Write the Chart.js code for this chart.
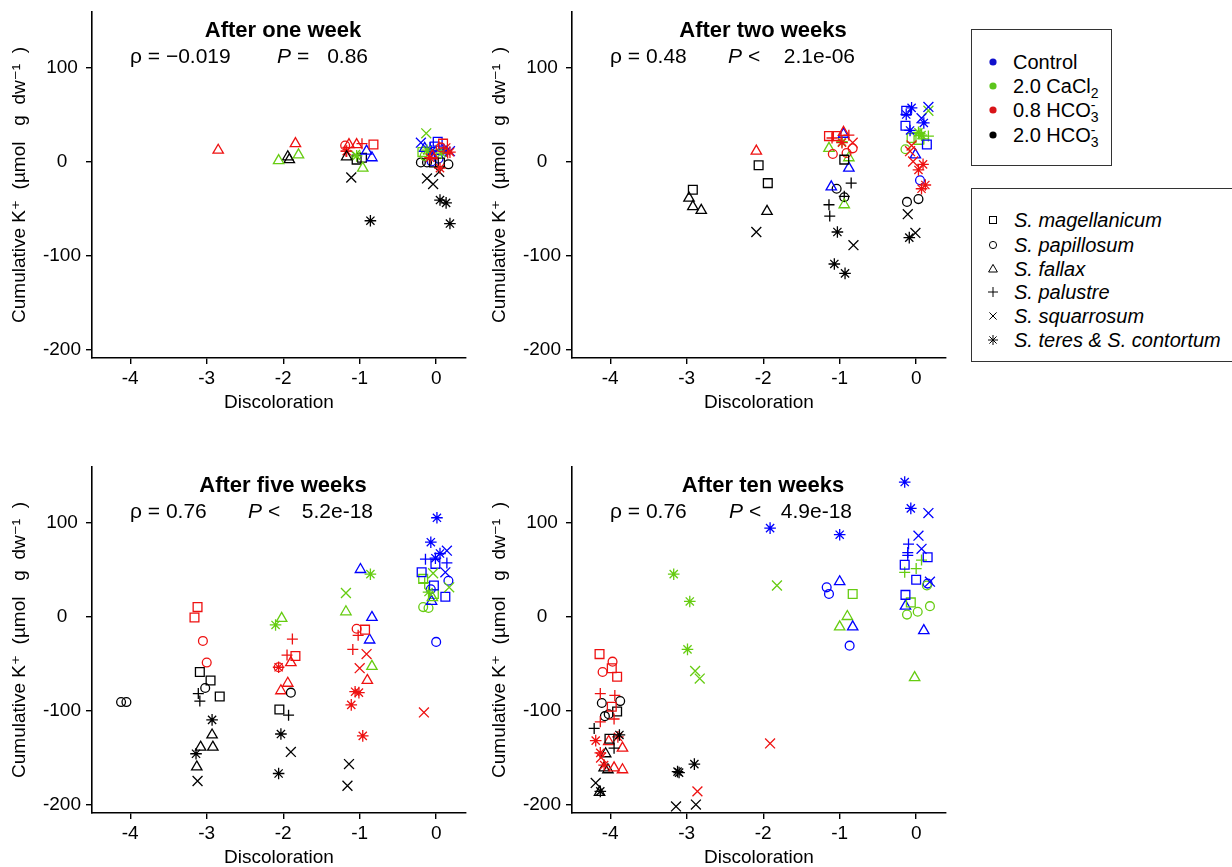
<!DOCTYPE html>
<html>
<head>
<meta charset="utf-8">
<title>Cumulative K+ vs discoloration</title>
<script src="https://cdn.jsdelivr.net/npm/chart.js@4.4.1/dist/chart.umd.min.js"></script>
<style>
  html, body { margin: 0; padding: 0; background: #fff; }
  body { width: 1232px; height: 867px; position: relative; overflow: hidden;
         font-family: "Liberation Sans", Arial, "DejaVu Sans", sans-serif; color: #000; }
  canvas { position: absolute; }
  .box { position: absolute; border: 1px solid #333; box-sizing: border-box; }
  .row { position: absolute; left: 985px; height: 24px; line-height: 24px; font-size: 20px; white-space: nowrap; }
  .row svg { position: absolute; left: 0; top: 4px; }
  .row .lt { position: absolute; left: 28px; top: 0; }
  .row.sp .lt { font-style: italic; left: 29px; }
  sub { font-size: 14px; vertical-align: -5px; line-height: 0; }
  .ss { display: inline-block; vertical-align: -5px; font-size: 14px; line-height: 12px; }
  .ss span { display: block; }
</style>
</head>
<body>
<canvas id="w1" width="480" height="430" style="left:0;top:0"></canvas>
<canvas id="w2" width="480" height="430" style="left:480px;top:0"></canvas>
<canvas id="w5" width="480" height="430" style="left:0;top:455px"></canvas>
<canvas id="w10" width="480" height="430" style="left:480px;top:455px"></canvas>
<div class="box" style="left:971px;top:29px;width:141px;height:137px"></div>
<div class="box" style="left:971px;top:188px;width:275px;height:174px"></div>
<script>
/* ── 数据：[褪色, 累积 K+, 处理, 物种] ── */
var TREAT_KEYS = ["ctl", "ca", "h08", "h20"];
var TREAT_LABELS = ["Control", "2.0 CaCl<sub>2</sub>",
  '0.8 HCO<span class="ss"><span>-</span><span>3</span></span>',
  '2.0 HCO<span class="ss"><span>-</span><span>3</span></span>'];
var SPECIES_KEYS = ["mag", "pap", "fal", "pal", "squ", "ter"];
var SPECIES_LABELS = ["S. magellanicum", "S. papillosum", "S. fallax", "S. palustre",
  "S. squarrosum", "S. teres & S. contortum"];
var X_TICKS = [-4, -3, -2, -1, 0];
var Y_TICKS = [-200, -100, 0, 100];

var W1 = [
  [-2.85, 12, "h08", "fal"], [-1.84, 19, "h08", "fal"], [-2.06, 1, "ca", "fal"], [-1.80, 7, "ca", "fal"],
  [-1.94, 5, "h20", "fal"], [-1.92, 2, "h20", "fal"],
  [-1.19, 17, "h08", "pap"], [-1.14, 18, "h08", "fal"], [-1.04, 18, "h08", "fal"], [-0.97, 19, "h08", "pal"],
  [-0.82, 18, "h08", "mag"], [-1.17, 11, "h08", "ter"], [-1.18, 11, "h08", "pal"], [-1.04, 6, "ca", "ter"],
  [-1.06, 7, "ca", "squ"], [-0.91, 11, "ctl", "fal"], [-0.84, 4, "ctl", "fal"], [-1.17, 5, "h20", "fal"],
  [-1.04, 2, "h20", "mag"], [-0.97, 4, "h20", "mag"], [-0.96, -7, "ca", "fal"], [-1.11, -17, "h20", "squ"],
  [-0.86, -63, "h20", "ter"],
  [-0.13, 30, "ca", "squ"], [-0.20, 20, "ctl", "squ"], [0.02, 21, "ctl", "mag"], [0.09, 19, "h08", "mag"],
  [-0.12, 12, "ca", "ter"], [0.07, 9, "ca", "ter"], [0.18, 11, "ctl", "squ"], [-0.06, 11, "ctl", "ter"],
  [-0.08, 4, "h08", "ter"], [0.05, -7, "h08", "ter"], [-0.15, 14, "ctl", "fal"], [-0.10, 8, "ca", "pal"],
  [-0.02, 16, "ctl", "mag"], [0.12, 14, "h08", "squ"], [0.15, 9, "h08", "pal"], [-0.05, 6, "h08", "fal"],
  [0.00, 12, "ca", "pal"], [0.10, 13, "ctl", "pal"], [-0.15, 6, "ca", "pap"], [0.03, 3, "ctl", "pap"],
  [-0.08, 15, "ctl", "pal"], [0.06, 15, "h08", "pap"], [0.18, 10, "h08", "ter"], [-0.18, 10, "ca", "mag"],
  [0.13, 11, "ctl", "ter"], [-0.04, 8, "ctl", "squ"], [-0.06, 0, "ctl", "pap"],
  [-0.20, -1, "h20", "pap"], [-0.12, -1, "h20", "pap"], [0.16, -3, "h20", "pap"], [-0.03, -1, "h20", "mag"],
  [0.05, -1, "h20", "mag"], [-0.12, -18, "h20", "squ"], [-0.04, -24, "h20", "squ"], [0.04, -11, "h20", "squ"],
  [0.05, -41, "h20", "ter"], [0.13, -44, "h20", "ter"], [0.18, -66, "h20", "ter"]
];

var W2 = [
  [-2.92, -30, "h20", "mag"], [-2.97, -39, "h20", "fal"], [-2.92, -48, "h20", "fal"], [-2.81, -52, "h20", "fal"],
  [-2.09, 11, "h08", "fal"], [-2.06, -4, "h20", "mag"], [-1.94, -23, "h20", "mag"], [-1.95, -53, "h20", "fal"],
  [-2.09, -75, "h20", "squ"],
  [-1.14, 27, "h08", "mag"], [-1.04, 27, "h08", "mag"], [-0.95, 31, "h08", "fal"], [-0.88, 28, "h08", "pal"],
  [-1.10, 25, "h08", "pal"], [-0.97, 20, "h08", "ter"], [-0.83, 20, "h08", "squ"], [-1.09, 8, "h08", "pap"],
  [-0.91, 9, "h08", "pap"], [-0.83, 14, "h08", "pap"], [-0.95, 29, "ctl", "fal"], [-1.14, 14, "ca", "fal"],
  [-0.88, 4, "ca", "fal"], [-0.97, 21, "ca", "ter"], [-0.94, -46, "ca", "fal"], [-0.88, -7, "ctl", "fal"],
  [-1.11, -27, "ctl", "fal"], [-0.94, 2, "h20", "mag"], [-1.04, -29, "h20", "pap"], [-0.94, -38, "h20", "pap"],
  [-0.85, -23, "h20", "pal"], [-0.94, -37, "h20", "pal"], [-1.14, -46, "h20", "pal"], [-1.13, -58, "h20", "pal"],
  [-1.03, -75, "h20", "ter"], [-0.82, -89, "h20", "squ"], [-1.07, -109, "h20", "ter"], [-0.93, -119, "h20", "ter"],
  [-0.06, 57, "ctl", "ter"], [0.16, 58, "ctl", "squ"], [0.16, 54, "ca", "squ"], [-0.13, 50, "ctl", "ter"],
  [-0.13, 54, "ctl", "mag"], [0.07, 46, "ctl", "squ"], [0.10, 41, "ctl", "ter"], [-0.14, 38, "ctl", "mag"],
  [-0.08, 33, "ctl", "ter"], [0.07, 28, "ca", "ter"], [0.03, 31, "ca", "ter"], [0.16, 27, "ca", "pal"],
  [0.05, 30, "ca", "pal"], [-0.06, 25, "ca", "mag"], [0.03, 23, "ca", "mag"], [0.10, 24, "ca", "pal"],
  [0.14, 18, "ctl", "mag"], [-0.14, 13, "ca", "pap"], [-0.06, 17, "h08", "squ"], [-0.08, 11, "h08", "squ"],
  [-0.01, 7, "ctl", "fal"], [-0.04, 0, "h08", "squ"], [0.09, -3, "h08", "ter"], [0.03, -9, "h08", "ter"],
  [0.05, -20, "ctl", "pap"], [0.12, -25, "h08", "ter"], [0.07, -29, "h08", "ter"], [-0.12, -43, "h20", "pap"],
  [0.03, -40, "h20", "pap"], [-0.11, -56, "h20", "squ"], [-0.01, -76, "h20", "squ"], [-0.09, -81, "h20", "ter"]
];

var W5 = [
  [-4.12, -91, "h20", "pap"], [-4.05, -91, "h20", "pap"],
  [-3.12, 10, "h08", "mag"], [-3.16, -1, "h08", "mag"], [-3.05, -26, "h08", "pap"], [-3.00, -49, "h08", "pap"],
  [-3.09, -59, "h20", "mag"], [-2.95, -68, "h20", "mag"], [-3.02, -76, "h20", "pap"], [-3.11, -82, "h20", "pal"],
  [-3.09, -90, "h20", "pal"], [-2.83, -85, "h20", "mag"], [-2.93, -110, "h20", "ter"], [-2.93, -126, "h20", "fal"],
  [-2.92, -139, "h20", "fal"], [-3.08, -139, "h20", "fal"], [-3.14, -146, "h20", "ter"], [-3.13, -160, "h20", "fal"],
  [-3.12, -175, "h20", "squ"],
  [-2.10, -9, "ca", "ter"], [-2.02, -2, "ca", "fal"], [-1.88, -24, "h08", "pal"], [-1.95, -41, "h08", "pal"],
  [-1.84, -42, "h08", "mag"], [-1.90, -49, "h08", "fal"], [-2.06, -54, "h08", "pap"], [-2.06, -54, "h08", "ter"],
  [-1.94, -71, "h08", "fal"], [-2.03, -79, "h08", "fal"], [-1.90, -81, "h20", "pap"], [-2.05, -99, "h20", "mag"],
  [-1.93, -105, "h20", "pal"], [-2.03, -125, "h20", "ter"], [-1.90, -144, "h20", "squ"], [-2.06, -167, "h20", "ter"],
  [-0.99, 50, "ctl", "fal"], [-0.86, 45, "ca", "ter"], [-1.18, 25, "ca", "squ"], [-1.18, 5, "ca", "fal"],
  [-0.84, -1, "ctl", "fal"], [-1.04, -13, "h08", "pap"], [-0.93, -14, "h08", "mag"], [-1.02, -20, "h08", "pal"],
  [-0.87, -25, "ctl", "fal"], [-1.09, -35, "h08", "pal"], [-0.91, -40, "h08", "squ"], [-0.84, -53, "ca", "fal"],
  [-1.00, -55, "h08", "squ"], [-0.90, -68, "h08", "fal"], [-1.06, -80, "h08", "ter"], [-1.01, -81, "h08", "ter"],
  [-1.11, -94, "h08", "ter"], [-0.96, -127, "h08", "ter"], [-1.14, -157, "h20", "squ"], [-1.16, -180, "h20", "squ"],
  [0.01, 105, "ctl", "ter"], [-0.07, 79, "ctl", "ter"], [0.14, 70, "ctl", "squ"], [0.05, 67, "ctl", "ter"],
  [-0.01, 62, "ctl", "ter"], [-0.14, 61, "ctl", "pal"], [0.14, 57, "ctl", "pal"], [-0.01, 56, "ctl", "mag"],
  [-0.19, 47, "ctl", "mag"], [0.12, 47, "ctl", "squ"], [-0.04, 46, "ca", "squ"], [0.16, 38, "ctl", "pap"],
  [-0.17, 40, "ca", "mag"], [-0.15, 36, "ca", "pal"], [-0.03, 33, "ctl", "mag"], [0.17, 31, "ca", "squ"],
  [-0.03, 24, "ca", "mag"], [-0.07, 29, "ctl", "pap"], [-0.10, 26, "ca", "ter"], [0.12, 21, "ctl", "mag"],
  [-0.06, 16, "ctl", "fal"], [-0.05, 20, "ca", "fal"], [-0.17, 10, "ca", "pap"], [-0.10, 9, "ca", "pap"],
  [0.00, -27, "ctl", "pap"], [-0.16, -102, "h08", "squ"]
];

var W10 = [
  [-0.15, 143, "ctl", "ter"], [-0.07, 115, "ctl", "ter"], [0.16, 110, "ctl", "squ"], [0.03, 86, "ctl", "squ"],
  [-0.10, 77, "ctl", "pal"], [0.07, 72, "ctl", "squ"], [-0.11, 68, "ctl", "pal"], [-0.11, 65, "ctl", "pal"],
  [0.15, 63, "ctl", "mag"], [-0.15, 55, "ctl", "mag"], [0.07, 60, "ca", "pal"], [0.00, 51, "ca", "pal"],
  [-0.15, 47, "ca", "pal"], [0.00, 39, "ctl", "mag"], [0.18, 37, "ctl", "squ"], [0.14, 33, "ca", "pap"],
  [0.15, 35, "ctl", "pap"], [-0.14, 23, "ctl", "mag"], [-0.07, 15, "ca", "mag"], [-0.14, 11, "ctl", "fal"],
  [0.18, 11, "ca", "pap"], [0.02, 5, "ca", "pap"], [-0.12, 2, "ca", "pap"], [0.10, -15, "ctl", "fal"],
  [-0.02, -65, "ca", "fal"],
  [-1.91, 94, "ctl", "ter"], [-1.00, 87, "ctl", "ter"], [-1.82, 33, "ca", "squ"], [-1.17, 31, "ctl", "pap"],
  [-1.14, 24, "ctl", "pap"], [-1.00, 37, "ctl", "fal"], [-0.83, 24, "ca", "mag"], [-0.90, 0, "ca", "fal"],
  [-1.00, -11, "ca", "fal"], [-0.83, -11, "ctl", "fal"], [-0.87, -31, "ctl", "pap"],
  [-3.17, 45, "ca", "ter"], [-2.96, 16, "ca", "ter"], [-2.99, -35, "ca", "ter"], [-2.89, -58, "ca", "squ"],
  [-2.83, -66, "ca", "squ"], [-1.91, -135, "h08", "squ"], [-3.12, -165, "h20", "ter"], [-3.10, -166, "h20", "ter"],
  [-2.90, -157, "h20", "ter"], [-2.86, -186, "h08", "squ"], [-3.14, -202, "h20", "squ"], [-2.88, -200, "h20", "squ"],
  [-4.14, -40, "h08", "mag"], [-3.97, -48, "h08", "pap"], [-4.10, -59, "h08", "pap"], [-3.98, -55, "h08", "mag"],
  [-3.91, -64, "h08", "mag"], [-4.13, -82, "h08", "pal"], [-3.94, -84, "h08", "pal"], [-4.11, -92, "h20", "pap"],
  [-3.87, -90, "h20", "pap"], [-3.98, -96, "h08", "mag"], [-3.91, -101, "h20", "mag"], [-4.07, -106, "h20", "pap"],
  [-4.02, -104, "h20", "pap"], [-3.95, -109, "h08", "pal"], [-4.21, -119, "h20", "pal"], [-4.13, -112, "h08", "pal"],
  [-3.88, -126, "h20", "ter"], [-3.90, -128, "h08", "ter"], [-4.01, -130, "h20", "mag"], [-3.95, -140, "h20", "pal"],
  [-4.19, -132, "h08", "ter"], [-4.13, -145, "h08", "ter"], [-4.02, -133, "h08", "fal"], [-3.84, -140, "h08", "fal"],
  [-4.06, -146, "h20", "fal"], [-4.12, -150, "h08", "squ"], [-4.08, -158, "h08", "ter"], [-4.08, -161, "h20", "fal"],
  [-4.03, -163, "h20", "fal"], [-3.95, -161, "h08", "fal"], [-3.84, -163, "h08", "fal"], [-4.19, -177, "h20", "squ"],
  [-4.13, -186, "h20", "ter"], [-4.14, -187, "h20", "fal"]
];

/* ── 样式 ── */
var FONT = '"Liberation Sans", Arial, "DejaVu Sans", sans-serif';
var COLOR = { ctl: "#0000ff", ca: "#66cc11", h08: "#ee1111", h20: "#000000" };
var DOT = { ctl: "#1010cc", ca: "#5cc51c", h08: "#d81418", h20: "#000000" };
var SHAPE = {
  mag: { style: "rect", r: 6.2 },
  pap: { style: "circle", r: 4.4 },
  fal: { style: "triangle", r: 6 },
  pal: { style: "cross", r: 5.5 },
  squ: { style: "crossRot", r: 7 },
  ter: { style: "star", r: 5.8 }
};

Chart.defaults.font.family = FONT;
Chart.defaults.color = "#000";

/* ── 面板标题 + ρ / P 文本（画在绘图区内） ── */
var panelText = {
  id: "panelText",
  beforeDatasetsDraw: function (chart, args, o) {
    var ctx = chart.ctx, a = chart.chartArea;
    var y2 = a.top + 45;
    ctx.save();
    ctx.fillStyle = "#000";
    ctx.textBaseline = "middle";
    ctx.font = "bold 22px " + FONT;
    ctx.textAlign = "center";
    ctx.fillText(o.title, (a.left + a.right) / 2 + 4, a.top + 19);
    ctx.font = "21px " + FONT;
    ctx.textAlign = "left";
    ctx.fillText("\u03c1 = " + o.rho, a.left + 38, y2);
    ctx.font = "italic 21px " + FONT;
    ctx.fillText("P", a.left + o.px, y2);
    ctx.font = "21px " + FONT;
    ctx.fillText(o.op, a.left + o.px + 20, y2);
    ctx.textAlign = "right";
    ctx.fillText(o.p, a.left + o.pEnd, y2);
    ctx.restore();
  }
};

function axisGrid() {
  return { drawOnChartArea: false, drawTicks: true, tickLength: 6, color: "#000", tickColor: "#000", lineWidth: 1.4, tickWidth: 1.4 };
}

// 去掉刻度标签带来的额外边距，让绘图区严格按 layout.padding 定位
function noPad(s) { s.paddingTop = 0; s.paddingBottom = 0; s.paddingLeft = 0; s.paddingRight = 0; }

function makePanel(id, rows, txt) {
  var groups = {}, order = [];
  rows.forEach(function (r) {
    var k = r[2] + "|" + r[3];
    if (!groups[k]) { groups[k] = { t: r[2], s: r[3], pts: [] }; order.push(k); }
    groups[k].pts.push({ x: r[0], y: r[1] });
  });
  var datasets = order.map(function (k) {
    var g = groups[k], sh = SHAPE[g.s];
    return {
      data: g.pts,
      pointStyle: sh.style,
      pointRadius: sh.r,
      pointHoverRadius: sh.r,
      pointBorderColor: COLOR[g.t],
      pointBackgroundColor: "rgba(0,0,0,0)",
      pointBorderWidth: 1.3,
      showLine: false
    };
  });

  return new Chart(document.getElementById(id), {
    type: "scatter",
    data: { datasets: datasets },
    plugins: [panelText],
    options: {
      responsive: false,
      animation: false,
      events: [],
      layout: { padding: { top: 12, right: 14, bottom: 0, left: 0 } },
      plugins: { legend: { display: false }, tooltip: { enabled: false }, panelText: txt },
      scales: {
        x: {
          type: "linear", min: -4.5, max: 0.39,
          afterBuildTicks: function (s) { s.ticks = X_TICKS.map(function (v) { return { value: v }; }); },
          afterFit: function (s) { s.height = 72; noPad(s); },
          grid: axisGrid(),
          border: { display: true, color: "#000", width: 1.6 },
          ticks: { color: "#000", font: { size: 19 }, padding: 3, maxRotation: 0, autoSkip: false,
                   callback: function (v) { return String(v); } },
          title: { display: true, text: "Discoloration", color: "#000", font: { size: 19 },
                   padding: { top: 0, bottom: 16 } }
        },
        y: {
          type: "linear", min: -209, max: 159,
          afterBuildTicks: function (s) { s.ticks = Y_TICKS.map(function (v) { return { value: v }; }); },
          afterFit: function (s) { s.width = 92; noPad(s); },
          grid: axisGrid(),
          border: { display: true, color: "#000", width: 1.6 },
          ticks: { color: "#000", font: { size: 19 }, padding: 5, crossAlign: "center", autoSkip: false,
                   callback: function (v) { return String(v); } },
          title: { display: true, text: "Cumulative K\u207a  (\u00b5mol   g  dw\u207b\u00b9  )", color: "#000",
                   font: { size: 19 }, padding: { top: 8, bottom: 0 } }
        }
      }
    }
  });
}

makePanel("w1", W1, { title: "After one week", rho: "\u22120.019", op: "=", p: "0.86", px: 185, pEnd: 276 });
makePanel("w2", W2, { title: "After two weeks", rho: "0.48", op: "<", p: "2.1e-06", px: 156, pEnd: 283 });
makePanel("w5", W5, { title: "After five weeks", rho: "0.76", op: "<", p: "5.2e-18", px: 156, pEnd: 281 });
makePanel("w10", W10, { title: "After ten weeks", rho: "0.76", op: "<", p: "4.9e-18", px: 157, pEnd: 280 });

/* ── 图例 ── */
var ICON = {
  mag: '<rect x="-3.5" y="-3.5" width="7" height="7"/>',
  pap: '<circle r="3.6"/>',
  fal: '<path d="M0,-4.6L4.4,3L-4.4,3Z"/>',
  pal: '<path d="M-5,0H5M0,-5V5"/>',
  squ: '<path d="M-3.6,-3.6L3.6,3.6M3.6,-3.6L-3.6,3.6"/>',
  ter: '<path d="M-5,0H5M0,-5V5M-3.6,-3.6L3.6,3.6M3.6,-3.6L-3.6,3.6"/>'
};

function legendRow(top, icon, html, cls) {
  var d = document.createElement("div");
  d.className = "row" + (cls ? " " + cls : "");
  d.style.top = (top - 12) + "px";
  d.innerHTML = '<svg width="16" height="16" viewBox="-8 -8 16 16">' + icon + '</svg><span class="lt">' + html + '</span>';
  document.body.appendChild(d);
}

var TREAT_ROWS = [62, 86, 110, 135];
TREAT_KEYS.forEach(function (k, i) {
  legendRow(TREAT_ROWS[i], '<circle r="3.6" fill="' + DOT[k] + '"/>', TREAT_LABELS[i]);
});
var SPECIES_ROWS = [220, 245, 269, 292, 316, 340];
SPECIES_KEYS.forEach(function (k, i) {
  legendRow(SPECIES_ROWS[i], '<g fill="none" stroke="#000" stroke-width="1">' + ICON[k] + '</g>', SPECIES_LABELS[i], "sp");
});
</script>
</body>
</html>
